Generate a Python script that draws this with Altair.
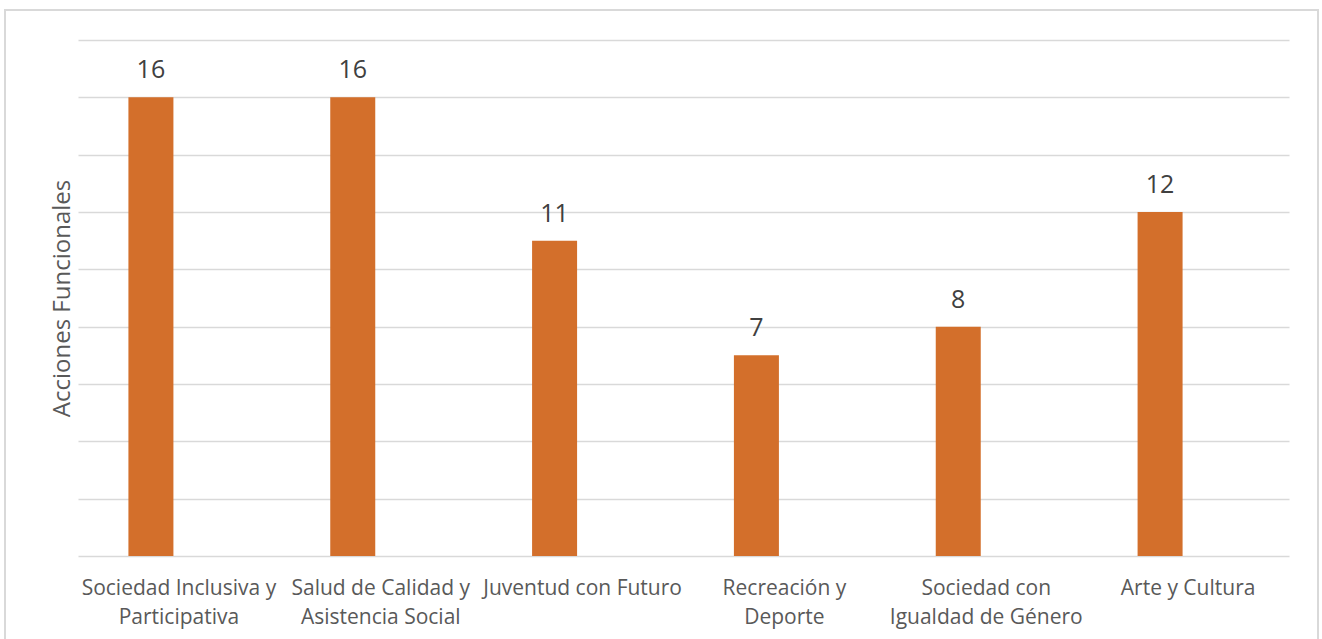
import altair as alt
import pandas as pd

categories = [
    "Sociedad Inclusiva y Participativa",
    "Salud de Calidad y Asistencia Social",
    "Juventud con Futuro",
    "Recreación y Deporte",
    "Sociedad con Igualdad de Género",
    "Arte y Cultura",
]
label_lines = [
    ["Sociedad Inclusiva y", "Participativa"],
    ["Salud de Calidad y", "Asistencia Social"],
    ["Juventud con Futuro"],
    ["Recreación y", "Deporte"],
    ["Sociedad con", "Igualdad de Género"],
    ["Arte y Cultura"],
]
values = [16, 16, 11, 7, 8, 12]

df = pd.DataFrame({"cat": categories, "val": values})

def arr(lines):
    return "[" + ",".join("'" + l + "'" for l in lines) + "]"

expr = "datum.label"
for c, lines in reversed(list(zip(categories, label_lines))):
    expr = f"datum.label == '{c}' ? {arr(lines)} : ({expr})"

FONT = "Open Sans"

x = alt.X("cat:N", sort=categories, title=None,
          scale=alt.Scale(paddingInner=0, paddingOuter=0),
          axis=alt.Axis(labelAngle=0, labelExpr=expr, labelFontSize=21,
                        labelColor="#595959", labelFont=FONT, labelPadding=21,
                        labelLineHeight=29, ticks=False, domain=False,
                        labelBaseline="top", labelLimit=400, labelOverlap=False))
y = alt.Y("val:Q", title="Acciones Funcionales",
          scale=alt.Scale(domain=[0, 18], nice=False),
          axis=alt.Axis(values=list(range(0, 19, 2)), labels=False, ticks=False,
                        domain=False, gridColor="#d9d9d9", gridWidth=1.5,
                        titleFontSize=24, titleFont=FONT, titleColor="#595959",
                        titleFontWeight="normal", titlePadding=4))

bars = alt.Chart(df).mark_bar(size=45, color="#d36f2b", xOffset=-28).encode(x=x, y=y)
text = alt.Chart(df).mark_text(dy=-27, xOffset=-28, fontSize=25, font=FONT,
                               color="#404040").encode(
    x=alt.X("cat:N", sort=categories), y="val:Q", text="val:Q")

frame = alt.Chart(df).mark_rect(fill=None, stroke="#d9d9d9", strokeWidth=2).encode(
    x=alt.value(-73), x2=alt.value(1240), y=alt.value(-30), y2=alt.value(620))

chart = alt.layer(frame, bars, text).properties(
    width=1211, height=516,
    padding={"left": 78, "top": 40, "right": 33, "bottom": 83},
    autosize=alt.AutoSizeParams(type="none"),
    background="#ffffff",
).configure_view(stroke=None)

chart.save("out.html", embed_options={"renderer": "svg", "actions": False})
